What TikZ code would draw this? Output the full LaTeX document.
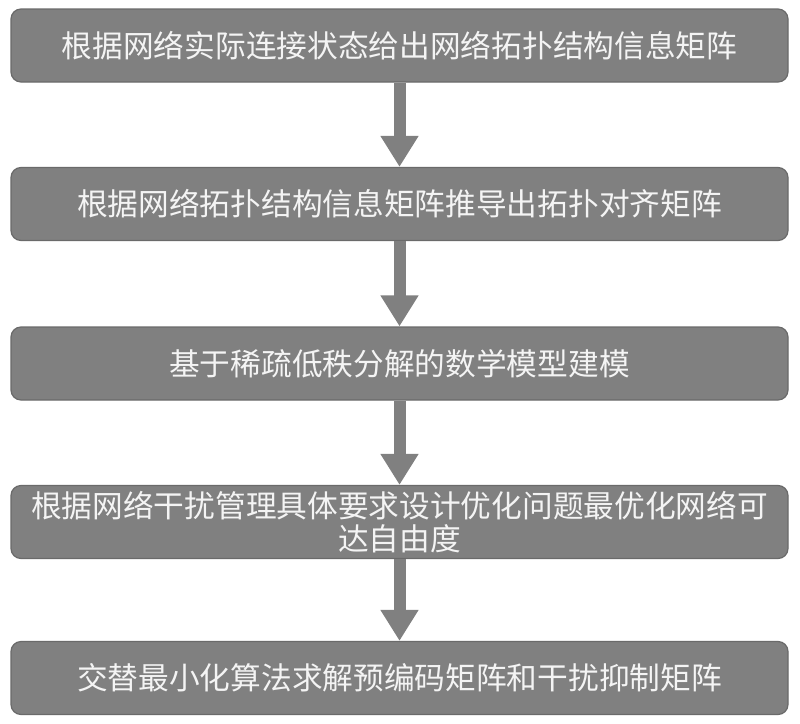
\documentclass[tikz,border=0pt]{standalone}
\usepackage{fontspec}
\newfontfamily\cjk{Noto Sans CJK SC}
\usetikzlibrary{arrows.meta}
\definecolor{boxfill}{HTML}{808080}
\definecolor{boxline}{HTML}{6A6A6A}
\definecolor{boxtext}{HTML}{F4F4F4}
\begin{document}
\begin{tikzpicture}[x=1pt,y=-1pt,
  stepbox/.style={draw=boxline,line width=1.2pt,fill=boxfill,rounded corners=10pt,
    minimum width=777pt,minimum height=73pt,text=boxtext,align=center,
    font=\cjk\fontsize{30.7pt}{33pt}\selectfont,inner sep=0pt},
  flow/.style={draw=boxfill,line width=12pt,-{Triangle[width=36pt,length=31pt]}}]
\useasboundingbox (0,0) rectangle (800,723);
\node[stepbox] (s1) at (399.5,45.5) {根据网络实际连接状态给出网络拓扑结构信息矩阵};
\node[stepbox] (s2) at (399.5,204) {根据网络拓扑结构信息矩阵推导出拓扑对齐矩阵};
\node[stepbox] (s3) at (399.5,363.5) {基于稀疏低秩分解的数学模型建模};
\node[stepbox] (s4) at (399.5,522) {根据网络干扰管理具体要求设计优化问题最优化网络可\\达自由度};
\node[stepbox] (s5) at (399.5,678) {交替最小化算法求解预编码矩阵和干扰抑制矩阵};
\draw[flow] (s1.south) -- (s2.north);
\draw[flow] (s2.south) -- (s3.north);
\draw[flow] (s3.south) -- (s4.north);
\draw[flow] (s4.south) -- (s5.north);
\end{tikzpicture}
\end{document}
